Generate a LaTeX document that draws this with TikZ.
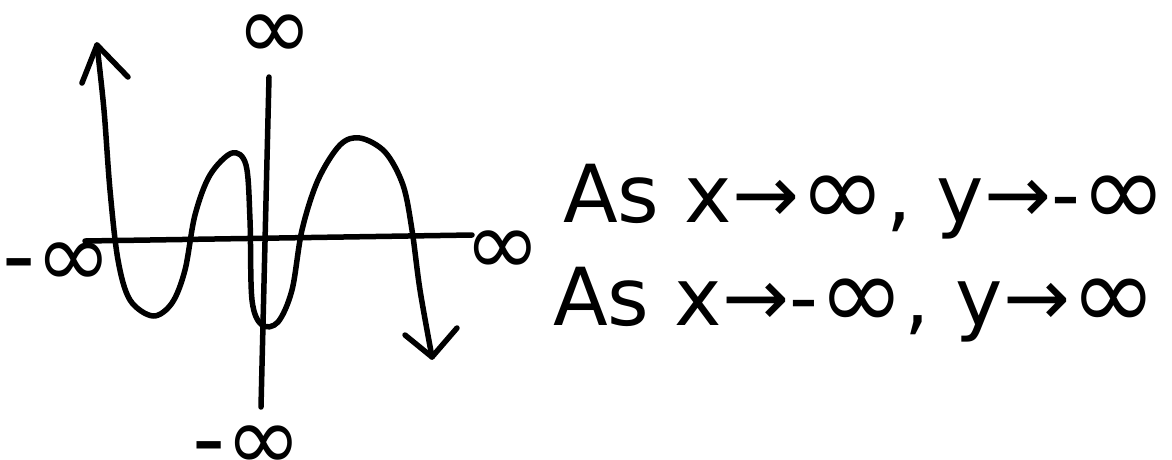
\documentclass[tikz,border=0pt]{standalone}
\usepackage{graphicx}
\usepackage{fontspec}
\setmainfont{DejaVu Sans}
\usetikzlibrary{positioning}
\newcommand{\infsym}{\raisebox{-0.05em}{\scalebox{1.3}{∞}}}

\begin{document}
\begin{tikzpicture}[x=1pt, y=-1pt,
  pen/.style={line width=5.5pt, line cap=round, line join=round},
  inf/.style={font=\fontsize{92}{100}\selectfont, inner sep=0pt},
  rule/.style={font=\fontsize{80}{96}\selectfont, inner sep=0pt, anchor=base west}]
\useasboundingbox (0,0) rectangle (1172,459);
% axes
\coordinate (xl) at (85,241);
\coordinate (xr) at (472,235);
\coordinate (yt) at (269,77);
\coordinate (yb) at (261,407);
\draw[pen] (xl) -- (xr);
\draw[pen] (yt) -- (yb);
\node[inf] (xneg) at (57,265) {-∞};
\node[inf] (xpos) at (503,253) {∞};
\node[inf] (ypos) at (275,37) {∞};
\node[inf] (yneg) at (247,448) {-∞};
% the curve
\coordinate (up) at (97,45);
\coordinate (down) at (432,357);
\draw[pen] plot[smooth, tension=0.55] coordinates {(97,45) (104,110) (110,190) (118,260)
  (130,300) (153,316) (172,303) (185,270) (195,215) (210,175) (232,153) (246,165)
  (250,220) (252,300) (262,325) (278,322) (292,290) (302,230) (318,180) (340,145)
  (360,138) (385,152) (403,185) (412,230) (420,290) (432,357)};
\draw[pen] (82,83) -- (up) -- (128,77);
\draw[pen] (405,335) -- (down) -- (457,328);
% end behaviour
\node[rule] (rule1) at (563,222) {As x→\infsym, y→-\infsym};
\node[rule] (rule2) at (553,325) {As x→-\infsym, y→\infsym};
\end{tikzpicture}
\end{document}
